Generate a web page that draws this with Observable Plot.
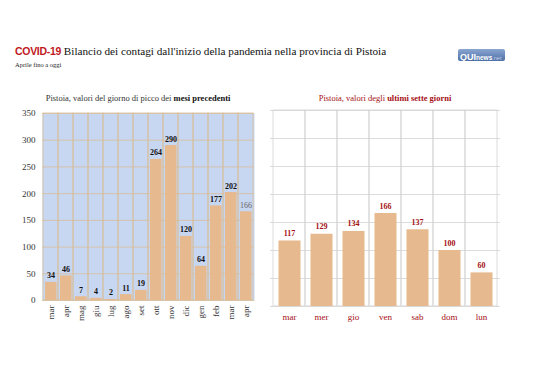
<!DOCTYPE html>
<html><head><meta charset="utf-8">
<script src="https://cdn.jsdelivr.net/npm/d3@7"></script>
<script src="https://cdn.jsdelivr.net/npm/@observablehq/plot@0.6"></script>
<style>
body{margin:0;background:#fff;width:538px;height:380px;position:relative;overflow:hidden;font-family:'Liberation Serif','Times New Roman','DejaVu Serif',serif}
.abs{position:absolute;white-space:nowrap}
.abs svg{overflow:visible}
</style></head><body>
<div class="abs" style="left:15px;top:45px;font-size:11.2px;color:#111"><span style="font-family:'Liberation Sans',sans-serif;font-weight:bold;color:#c0171d;font-size:10.5px;letter-spacing:-0.3px">COVID-19</span> Bilancio dei contagi dall'inizio della pandemia nella provincia di Pistoia</div>
<div class="abs" style="left:15px;top:61px;font-size:6.5px;color:#222">Aprile fino a oggi</div>
<div class="abs" style="left:458px;top:49px;width:47px;height:12px;border-radius:2px;background:linear-gradient(#8aa6d1,#4e6fa6);font-family:'Liberation Sans',sans-serif;line-height:12px;color:#fff;padding-left:2px;box-sizing:border-box"><b style="font-size:9px">QUI</b><span style="font-size:6.5px;font-weight:bold">news</span><span style="font-size:5.5px;color:#c8d6ee">.net</span></div>
<div class="abs" style="left:38px;top:93px;width:200px;text-align:center;font-size:8.5px;color:#333">Pistoia, valori del giorno di picco dei <b style="color:#111">mesi precedenti</b></div>
<div class="abs" style="left:300px;top:93px;width:170px;text-align:center;font-size:8.5px;color:#a50f15">Pistoia, valori degli <b>ultimi sette giorni</b></div>
<div id="left" class="abs" style="left:0;top:0"></div>
<div id="right" class="abs" style="left:260px;top:0"></div>
<script>
const monthLabels = ["mar","apr","mag","giu","lug","ago","set","ott","nov","dic","gen","feb","mar","apr"];
const monthValues = [34,46,7,4,2,11,19,264,290,120,64,177,202,166];
const dayLabels = ["mar","mer","gio","ven","sab","dom","lun"];
const dayValues = [117,129,134,166,137,100,60];
const yTicks = [0,50,100,150,200,250,300,350];

const serif = "'Liberation Serif','Times New Roman','DejaVu Serif',serif";
const barColor = "#e6b98e";
const yMax = yTicks[yTicks.length-1];
const idx = monthValues.map((d,i)=>i);
const last = idx.length-1;
const idxMain = idx.filter(i=>i!==last);

const left = Plot.plot({
  width: 270, height: 380,
  marginLeft: 42, marginRight: 16, marginTop: 113, marginBottom: 80,
  style: {fontFamily: serif, fontSize: "9px", color: "#333", background: "transparent"},
  x: {type: "band", domain: idx, padding: 0, tickFormat: i => monthLabels[i], tickRotate: -90, tickSize: 0, tickPadding: 5, label: null},
  y: {domain: [0, yMax], ticks: yTicks, tickSize: 0, tickPadding: 7, label: null},
  marks: [
    Plot.frame({fill: "#c8d7f1"}),
    Plot.ruleY(yTicks, {stroke: "#d8bd9b", strokeWidth: 0.8}),
    Plot.barY(idx, {x: d=>d, y1: 0, y2: yMax, fill: "none", stroke: "#d8bd9b", strokeWidth: 0.8}),
    Plot.barY(idx, {x: d=>d, y: i=>monthValues[i], fill: barColor, insetLeft: 2, insetRight: 1.5}),
    Plot.text(idxMain, {x: d=>d, y: i=>monthValues[i], text: i=>String(monthValues[i]), lineAnchor: "bottom", dy: -4,
      fontWeight: "bold", fill: "#111", fontSize: 8}),
    Plot.text([last], {x: d=>d, y: i=>monthValues[i], text: i=>String(monthValues[i]), lineAnchor: "bottom", dy: -4,
      fill: "#666", fontSize: 8})
  ]
});
document.getElementById("left").append(left);

const didx = dayValues.map((d,i)=>i);
const right = Plot.plot({
  width: 278, height: 380,
  marginLeft: 10, marginRight: 38, marginTop: 110, marginBottom: 74,
  style: {fontFamily: serif, fontSize: "9px", color: "#a50f15", background: "transparent"},
  x: {type: "band", domain: didx, padding: 0, tickFormat: i => dayLabels[i], tickSize: 0, tickPadding: 7, label: null},
  y: {domain: [0, yMax], axis: null},
  marks: [
    Plot.ruleY(yTicks, {stroke: "#d3d3d3", strokeWidth: 0.8}),
    Plot.barY(didx, {x: d=>d, y1: 0, y2: yMax, fill: "none", stroke: "#d3d3d3", strokeWidth: 0.8}),
    Plot.barY(didx, {x: d=>d, y: i=>dayValues[i], fill: barColor, insetLeft: 5.5, insetRight: 4.5}),
    Plot.text(didx, {x: d=>d, y: i=>dayValues[i], text: i=>String(dayValues[i]), lineAnchor: "bottom", dy: -5,
      fontWeight: "bold", fill: "#a50f15", fontSize: 8})
  ]
});
document.getElementById("right").append(right);
</script>
</body></html>
